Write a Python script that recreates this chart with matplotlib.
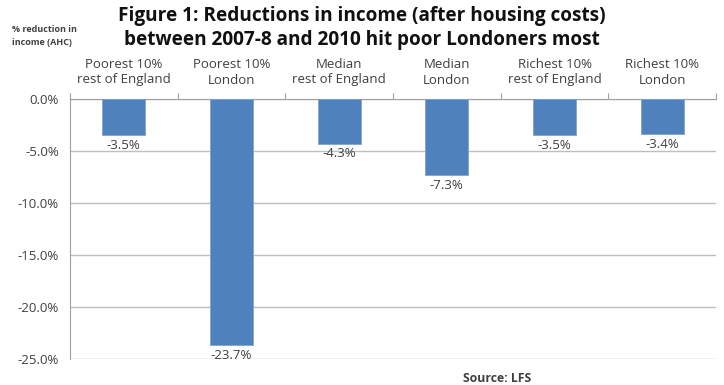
import numpy as np
import matplotlib.pyplot as plt
from matplotlib.ticker import FuncFormatter

categories = ['Poorest 10%\nrest of England', 'Poorest 10%\nLondon',
              'Median\nrest of England', 'Median\nLondon',
              'Richest 10%\nrest of England', 'Richest 10%\nLondon']
values = [-3.5, -23.7, -4.3, -7.3, -3.5, -3.4]

plt.rcParams['font.family'] = ['Open Sans', 'DejaVu Sans']
text_col = '#404040'

fig = plt.figure(figsize=(7.24, 3.85), dpi=100)
ax = fig.add_axes([70 / 724, 1 - 359 / 385, 646 / 724, 260 / 385])

ind = np.arange(len(categories))
ax.bar(ind, values, 0.4, color='#4F81BD', edgecolor='#7FA3D1', linewidth=0.6, zorder=3)

for i, v in enumerate(values):
	ax.text(i, v - 0.35, '%.1f%%' % v, ha='center', va='top', fontsize=9.5, color=text_col)

ax.set_xlim(-0.5, len(categories) - 0.5)
ax.set_ylim(-25, 0)
ax.set_yticks(np.arange(-25, 0.1, 5))
ax.yaxis.set_major_formatter(FuncFormatter(lambda y, p: '%.1f%%' % y))
ax.tick_params(axis='y', length=0, pad=8, labelsize=9.5, labelcolor=text_col)
ax.yaxis.grid(True, color='#BFBFBF', linewidth=1, zorder=0)

# category ticks on the zero line
ax.xaxis.tick_top()
ax.set_xticks(np.arange(-0.5, len(categories), 1))
ax.set_xticklabels([])
ax.tick_params(axis='x', length=4, color='#A0A0A0', direction='out')
ax.set_xticks(ind, minor=True)
ax.set_xticklabels(categories, minor=True, fontsize=9.5, color=text_col, linespacing=1.2)
ax.tick_params(axis='x', which='minor', length=0, pad=9)

for s in ['right', 'bottom']:
	ax.spines[s].set_visible(False)
ax.spines['top'].set_color('#A0A0A0')
ax.spines['left'].set_color('#A0A0A0')

fig.text(0.5, 0.985, 'Figure 1: Reductions in income (after housing costs)\nbetween 2007-8 and 2010 hit poor Londoners most',
	ha='center', va='top', fontsize=13.7, fontweight='bold', color='#111111', linespacing=1.25)
fig.text(0.017, 0.935, '% reduction in\nincome (AHC)', ha='left', va='top', fontsize=6.5,
	fontweight='bold', color=text_col, linespacing=1.5)
fig.text(0.64, 0.0, 'Source: LFS', ha='left', va='bottom', fontsize=8.8, fontweight='bold', color=text_col)

plt.savefig('out.png', dpi=100)
